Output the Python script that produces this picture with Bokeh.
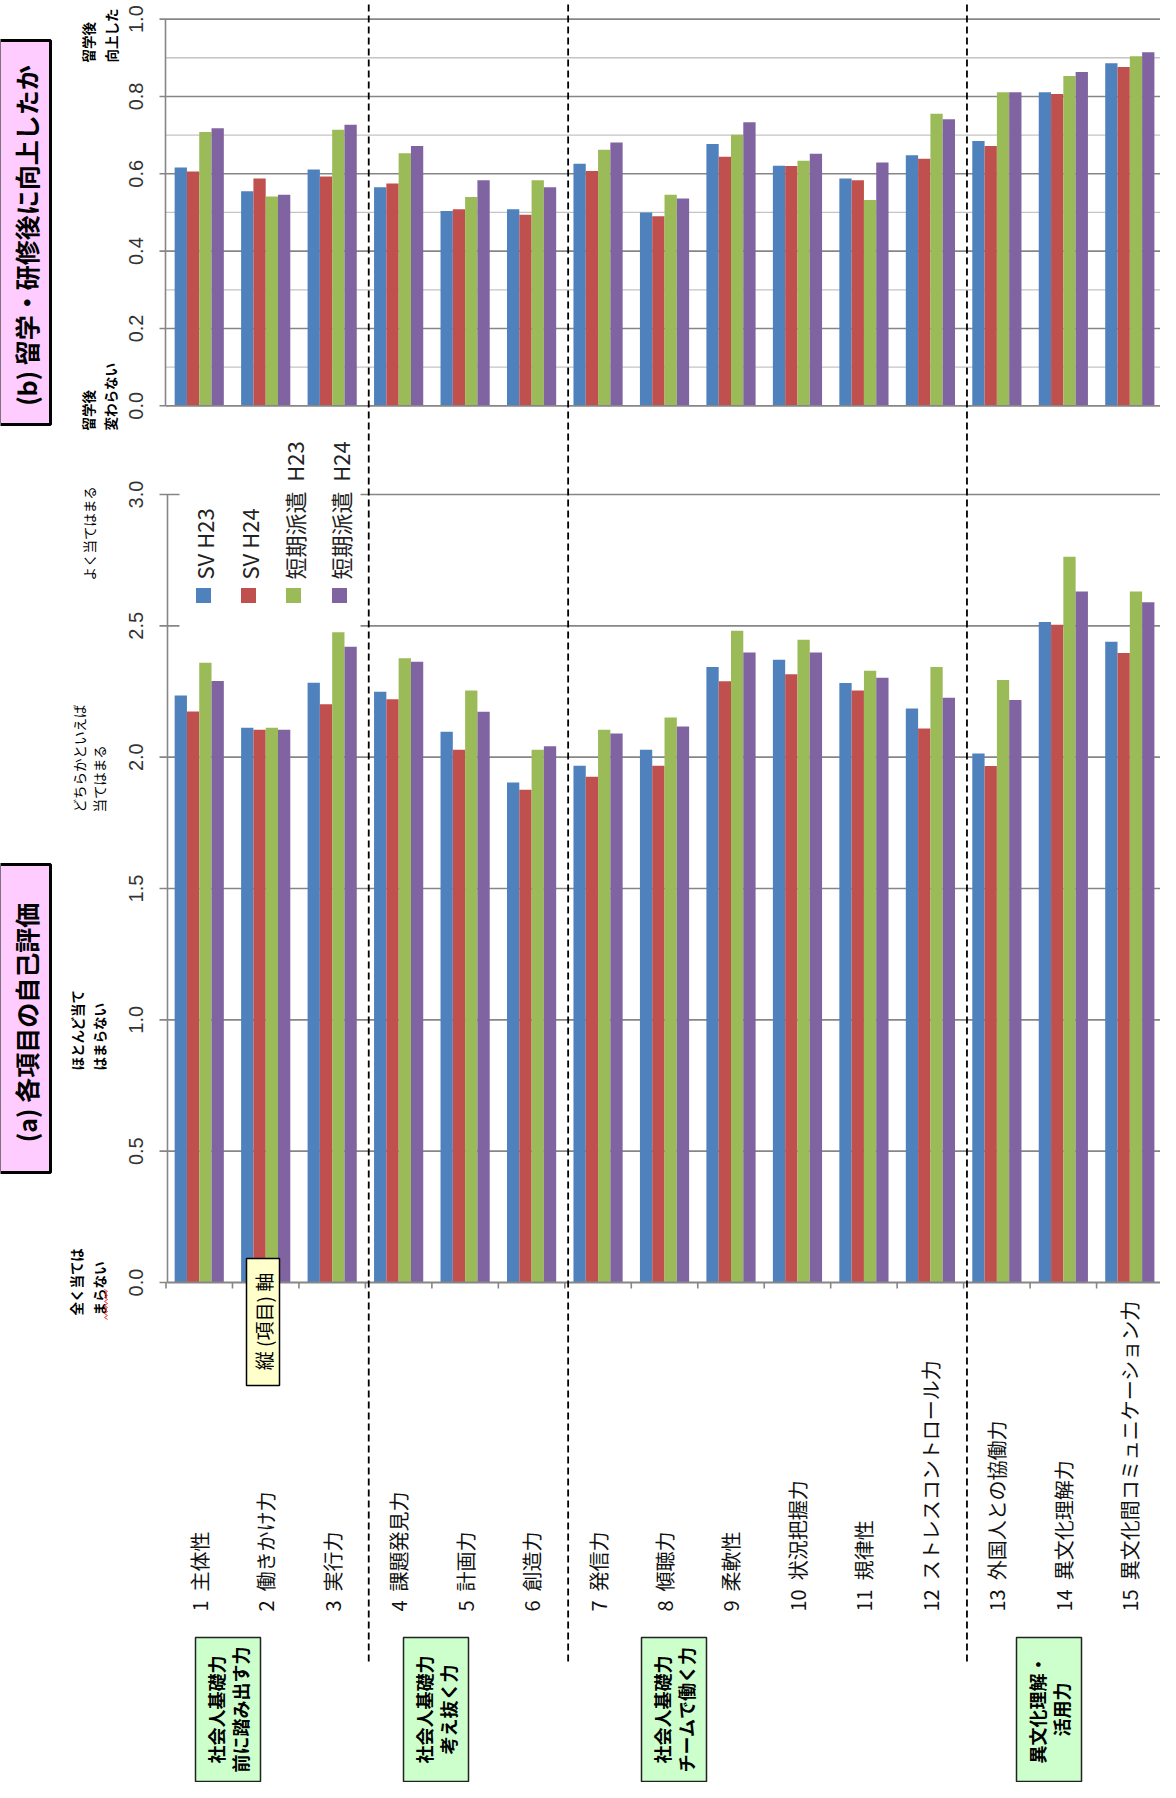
import math
import numpy as np
from bokeh.plotting import figure
from bokeh.models import Range1d, ColumnDataSource
from bokeh.transform import dodge
from bokeh.core.properties import value
from bokeh.embed import file_html
from bokeh.resources import INLINE

# ---------------- data ----------------
items = list(range(1, 16))
item_names = ["主体性", "働きかけ力", "実行力", "課題発見力", "計画力", "創造力",
              "発信力", "傾聴力", "柔軟性", "状況把握力", "規律性", "ストレスコントロール力",
              "外国人との協働力", "異文化理解力", "異文化間コミュニケーション力"]
series_names = ["SV H23", "SV H24", "短期派遣\u00a0 H23", "短期派遣\u00a0 H24"]
series_colors = ["#4F81BD", "#C0504D", "#9BBB59", "#8064A2"]

# (b) 留学・研修後に向上したか  (0 = 変わらない, 1 = 向上した)
b_sv_h23 = [0.616, 0.555, 0.611, 0.565, 0.504, 0.508, 0.626, 0.500, 0.677, 0.621, 0.588, 0.648, 0.685, 0.811, 0.886]
b_sv_h24 = [0.606, 0.588, 0.593, 0.575, 0.508, 0.494, 0.607, 0.490, 0.644, 0.620, 0.583, 0.639, 0.672, 0.806, 0.876]
b_tk_h23 = [0.708, 0.541, 0.714, 0.653, 0.540, 0.583, 0.662, 0.546, 0.701, 0.634, 0.532, 0.755, 0.811, 0.853, 0.904]
b_tk_h24 = [0.718, 0.546, 0.727, 0.672, 0.583, 0.565, 0.681, 0.536, 0.733, 0.652, 0.629, 0.741, 0.811, 0.863, 0.914]

# (a) 各項目の自己評価 (0..3)
a_sv_h23 = [2.235, 2.112, 2.283, 2.249, 2.097, 1.904, 1.967, 2.028, 2.343, 2.371, 2.282, 2.185, 2.014, 2.515, 2.439]
a_sv_h24 = [2.174, 2.104, 2.201, 2.220, 2.028, 1.876, 1.925, 1.967, 2.289, 2.316, 2.254, 2.109, 1.966, 2.504, 2.397]
a_tk_h23 = [2.359, 2.112, 2.476, 2.377, 2.254, 2.028, 2.104, 2.151, 2.481, 2.447, 2.329, 2.343, 2.294, 2.763, 2.631]
a_tk_h24 = [2.290, 2.104, 2.420, 2.363, 2.173, 2.042, 2.090, 2.117, 2.398, 2.398, 2.302, 2.226, 2.218, 2.631, 2.590]

b_major_ticks = [0.0, 0.2, 0.4, 0.6, 0.8, 1.0]
b_minor_grid = [0.1, 0.3, 0.5, 0.7, 0.9]
a_ticks = [0.0, 0.5, 1.0, 1.5, 2.0, 2.5, 3.0]

group_separators_after = [3, 6, 12]
group_labels = [("社会人基礎力", "前に踏み出す力"), ("社会人基礎力", "考え抜く力"),
                ("社会人基礎力", "チームで働く力"), ("異文化理解・", "活用力")]

panel_b_title = "(b) 留学・研修後に向上したか"
panel_a_title = "(a) 各項目の自己評価"
axis_note = "縦 (項目) 軸"

# ---------------- layout constants (pixels in page space) ----------------
W, H = 1160, 1782
OX, OY = 8, 8
X0 = 173.5          # left edge of category band
CAT_W = 66.47       # px per category
XB_AXIS, XA_AXIS, X_RIGHT = 173, 175, 1173
YB0, B_PX = 413.3, 386.7
YA0, A_PX = 1290.0, 262.67
BW = 0.185

JP = value("Noto Sans CJK JP")
NUM = value("Liberation Sans")
ANG = math.pi / 2
GRID = "#868686"

p = figure(width=W, height=H,
           x_range=Range1d(OX, OX + W), y_range=Range1d(OY + H, OY),
           min_border=0, toolbar_location=None, output_backend="svg",
           x_axis_location=None, y_axis_location=None, outline_line_color=None,
           background_fill_color="white", border_fill_color="white")
p.grid.visible = False
p.extra_x_ranges = {"cat": Range1d(0.5 + (OX - X0) / CAT_W, 0.5 + (OX + W - X0) / CAT_W)}
p.extra_y_ranges = {"b": Range1d((YB0 - (OY + H)) / B_PX, (YB0 - OY) / B_PX),
                    "a": Range1d((YA0 - (OY + H)) / A_PX, (YA0 - OY) / A_PX)}

# ---------------- panel (b) grid & axes ----------------
p.segment(x0=XB_AXIS, x1=X_RIGHT, y0=b_minor_grid, y1=b_minor_grid, y_range_name="b",
          line_color="#C4C4C4", line_width=1.3)
p.segment(x0=XB_AXIS - 6, x1=X_RIGHT, y0=b_major_ticks[1:], y1=b_major_ticks[1:], y_range_name="b",
          line_color=GRID, line_width=1.6)
p.segment(x0=XB_AXIS - 6, x1=XB_AXIS, y0=[0.0], y1=[0.0], y_range_name="b", line_color=GRID, line_width=1.6)
p.text(x=143, y=b_major_ticks, text=[f"{t:.1f}" for t in b_major_ticks], y_range_name="b",
       angle=ANG, text_align="center", text_baseline="middle", text_font=NUM,
       text_font_size="20px", text_color="#333333")

# ---------------- panel (a) grid & axes ----------------
p.segment(x0=XA_AXIS - 8, x1=X_RIGHT, y0=a_ticks[1:], y1=a_ticks[1:], y_range_name="a",
          line_color=GRID, line_width=1.6)
p.segment(x0=XA_AXIS - 8, x1=XA_AXIS, y0=[0.0], y1=[0.0], y_range_name="a", line_color=GRID, line_width=1.6)
# legend background (hides grid lines behind the legend)
p.quad(left=187, right=368, top=440, bottom=636, fill_color="white", line_color=None)
p.text(x=143, y=a_ticks, text=[f"{t:.1f}" for t in a_ticks], y_range_name="a",
       angle=ANG, text_align="center", text_baseline="middle", text_font=NUM,
       text_font_size="20px", text_color="#333333")

# ---------------- bars ----------------
src = ColumnDataSource(dict(item=items,
                            b0=b_sv_h23, b1=b_sv_h24, b2=b_tk_h23, b3=b_tk_h24,
                            a0=a_sv_h23, a1=a_sv_h24, a2=a_tk_h23, a3=a_tk_h24))
for j, c in enumerate(series_colors):
    off = (j - 1.5) * BW
    p.vbar(x=dodge("item", off), width=BW, top=f"b{j}", bottom=0, source=src,
           x_range_name="cat", y_range_name="b", fill_color=c, line_color=None)
    p.vbar(x=dodge("item", off), width=BW, top=f"a{j}", bottom=0, source=src,
           x_range_name="cat", y_range_name="a", fill_color=c, line_color=None)

# axis lines on top of bars
p.segment(x0=XB_AXIS, x1=XB_AXIS, y0=0, y1=1, y_range_name="b", line_color=GRID, line_width=1.6)
p.segment(x0=XB_AXIS, x1=X_RIGHT, y0=0, y1=0, y_range_name="b", line_color=GRID, line_width=1.8)
p.segment(x0=XA_AXIS, x1=XA_AXIS, y0=0, y1=3, y_range_name="a", line_color=GRID, line_width=1.6)
p.segment(x0=XA_AXIS, x1=X_RIGHT, y0=0, y1=0, y_range_name="a", line_color=GRID, line_width=1.8)
bounds = [i + 0.5 for i in range(0, 16)]
p.segment(x0=bounds, x1=bounds, y0=YA0, y1=YA0 + 6, x_range_name="cat", line_color=GRID, line_width=1.6)

# category labels
p.text(x=items, y=1619, text=[f"{i}\u00a0\u00a0{n}" for i, n in zip(items, item_names)], x_range_name="cat",
       angle=ANG, text_align="left", text_baseline="middle", text_font=JP,
       text_font_size="20px", text_color="#111111")

# group separators (dashed)
seps = [s + 0.55 for s in group_separators_after]
p.segment(x0=seps, x1=seps, y0=12, y1=1670, x_range_name="cat",
          line_color="black", line_width=1.8, line_dash="7 4")

# ---------------- legend ----------------
leg_x = [211, 256, 301, 347]
p.scatter(x=leg_x, y=603, marker="square", size=15, fill_color=series_colors, line_color=None)
p.text(x=leg_x, y=587, text=series_names, angle=ANG, text_align="left", text_baseline="middle",
       text_font=JP, text_font_size="22px", text_color="#222222")

# ---------------- left notes ----------------
notes = [  # (x, y_start, text, bold)
    (95, 70, "留学後", True), (118, 70, "向上した", True),
    (95, 438, "留学後", True), (117, 438, "変わらない", True),
    (96, 588, "よく当てはまる", False),
    (86, 820, "どちらかといえば", False), (106, 820, "当てはまる", False),
    (84, 1078, "ほとんど当て", True), (106, 1078, "はまらない", True),
    (83, 1323, "全く当ては", True), (106, 1323, "まらない", True),
]
for x, y, t, bold in notes:
    p.text(x=[x], y=[y], text=[t], angle=ANG, text_align="left", text_baseline="middle",
           text_font=JP, text_font_size="13.5px", text_color="black",
           text_font_style="bold" if bold else "normal")
# spell-check squiggle
sy = np.arange(1297, 1328, 2.0)
sx = np.where(np.arange(len(sy)) % 2 == 0, 112.0, 115.0)
p.line(x=sx, y=sy, line_color="#FF3030", line_width=1)

# ---------------- panel titles (pink boxes) ----------------
p.quad(left=[7, 7], right=[58, 58], top=[48, 872], bottom=[432, 1180],
       fill_color="#FFCCFF", line_color="black", line_width=3)
p.text(x=[33, 33], y=[243, 1030], text=[panel_b_title, panel_a_title], angle=ANG,
       text_align="center", text_baseline="middle", text_font=JP, text_font_size="25px",
       text_font_style="bold", text_color="black")

# ---------------- axis note (yellow) ----------------
p.quad(left=254, right=287, top=1266, bottom=1393, fill_color="#FFFFCC", line_color="black", line_width=1.5)
p.text(x=[270.5], y=[1329], text=[axis_note], angle=ANG, text_align="center", text_baseline="middle",
       text_font=JP, text_font_size="19px", text_color="black")

# ---------------- group boxes (green) ----------------
box_left = [203, 411, 649, 1024]
box_w = 65
p.quad(left=box_left, right=[l + box_w for l in box_left], top=1645, bottom=1789,
       fill_color="#CCFFCC", line_color="#222222", line_width=1.5)
cx = [l + box_w / 2 for l in box_left]
p.text(x=[c - 12 for c in cx], y=1717, text=[g[0] for g in group_labels], angle=ANG,
       text_align="center", text_baseline="middle", text_font=JP, text_font_size="18px",
       text_font_style="bold", text_color="black")
p.text(x=[c + 12 for c in cx], y=1717, text=[g[1] for g in group_labels], angle=ANG,
       text_align="center", text_baseline="middle", text_font=JP, text_font_size="18px",
       text_font_style="bold", text_color="black")

open("out.html", "w").write(file_html(p, INLINE))
